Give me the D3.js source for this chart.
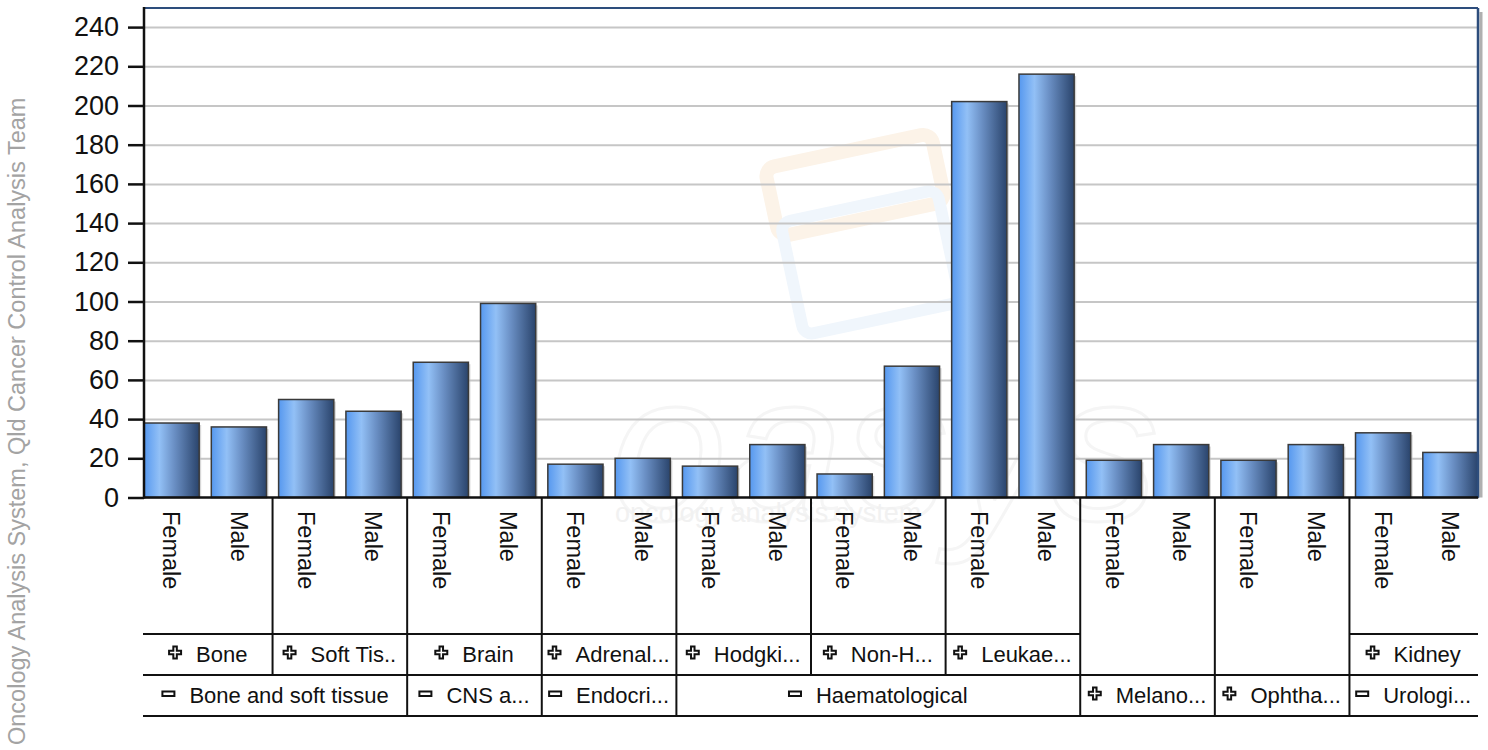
<!DOCTYPE html>
<html>
<head>
<meta charset="utf-8">
<script src="https://cdn.jsdelivr.net/npm/d3@7"></script>
<style>
	body { margin: 0; background: #fff; }
	svg { display: block; font-family: "Liberation Sans", Arial, sans-serif; }
</style>
</head>
<body>
<svg id="chart" width="1488" height="750"></svg>
<script>
// values
var categories = ["Bone and soft tissue", "CNS a...", "Endocri...", "Haematological", "Melano...", "Ophtha...", "Urologi..."];
var categoryOpen = [true, true, true, true, false, false, true];
var subcategories = ["Bone", "Soft Tis..", "Brain", "Adrenal...", "Hodgki...", "Non-H...", "Leukae...", "", "", "Kidney"];
var subcategoryParent = [0, 0, 1, 2, 3, 3, 3, 4, 5, 6];
var sexes = ["Female", "Male"];
var cases = [38, 36, 50, 44, 69, 99, 17, 20, 16, 27, 12, 67, 202, 216, 19, 27, 19, 27, 33, 23];
var yTicks = [0, 20, 40, 60, 80, 100, 120, 140, 160, 180, 200, 220, 240];
var sideNote = "Oncology Analysis System, Qld Cancer Control Analysis Team";

function renderChart() {
	var svg = d3.select('#chart');
	var plotL = 144, plotR = 1478, plotT = 8, plotB = 497.5;
	var row1B = 634, row2B = 675, row3B = 716;

	var x = d3.scaleBand()
		.domain(d3.range(cases.length))
		.range([plotL, plotR])
		.paddingInner(0.18)
		.paddingOuter(0);
	var y = d3.scaleLinear().domain([0, 250]).range([plotB, plotT - 0.5]);
	var bw = x.bandwidth();
	var gapHalf = x.step() * x.paddingInner() / 2;

	var defs = svg.append('defs');
	var grad = defs.append('linearGradient').attr('id', 'barGrad')
		.attr('x1', '0%').attr('x2', '100%').attr('y1', '0%').attr('y2', '0%');
	grad.append('stop').attr('offset', '0%').attr('stop-color', '#5698ef');
	grad.append('stop').attr('offset', '28%').attr('stop-color', '#92c0f6');
	grad.append('stop').attr('offset', '55%').attr('stop-color', '#6a8fc4');
	grad.append('stop').attr('offset', '100%').attr('stop-color', '#2a446c');

	// faint watermark
	var wm = svg.append('g').attr('id', 'watermark');
	wm.append('rect').attr('x', 770).attr('y', 150).attr('width', 170).attr('height', 70)
		.attr('rx', 10).attr('transform', 'rotate(-12 855 185)')
		.style('fill', 'none').style('stroke', '#fcf3e8').style('stroke-width', '14px');
	wm.append('rect').attr('x', 790).attr('y', 205).attr('width', 160).attr('height', 115)
		.attr('rx', 10).attr('transform', 'rotate(-12 870 260)')
		.style('fill', 'none').style('stroke', '#f0f6fc').style('stroke-width', '12px');
	wm.append('text').attr('x', 610).attr('y', 520)
		.style('font-size', '210px').style('font-style', 'italic')
		.style('fill', 'none').style('stroke', '#f5f5f5').style('stroke-width', '3px')
		.text('oasys');
	wm.append('text').attr('x', 615).attr('y', 522)
		.style('font-size', '27px').style('fill', '#f1f1f1')
		.text('oncology analysis system');

	// gridlines
	svg.append('g')
		.attr('transform', 'translate(' + plotL + ',0)')
		.call(d3.axisLeft(y).tickValues(yTicks.filter(function(d) { return d > 0; }))
			.tickSize(-(plotR - plotL)).tickFormat(''))
		.call(function(g) {
			g.select('.domain').remove();
			g.selectAll('line').style('stroke', '#c6c6c6').style('stroke-width', '2px');
		});

	// bars
	var bars = svg.append('g').attr('id', 'bars');
	bars.selectAll('rect.shadow')
		.data(cases)
		.enter().append('rect')
		.attr('class', 'shadow')
		.attr('x', function(d, i) { return x(i) + 2; })
		.attr('y', function(d) { return y(d) + 2; })
		.attr('width', bw)
		.attr('height', function(d) { return plotB - y(d) - 2; })
		.style('fill', '#bdbdbd').style('opacity', 0.6);
	bars.selectAll('rect.bar')
		.data(cases)
		.enter().append('rect')
		.attr('class', 'bar')
		.attr('x', function(d, i) { return x(i); })
		.attr('y', function(d) { return y(d); })
		.attr('width', bw)
		.attr('height', function(d) { return plotB - y(d); })
		.style('fill', 'url(#barGrad)')
		.style('stroke', '#3a3a3a')
		.style('stroke-width', '1.5px');

	// plot frame
	svg.append('line').attr('x1', plotR + 3).attr('x2', plotR + 3).attr('y1', plotT + 4).attr('y2', plotB)
		.style('stroke', '#b0b0b0').style('stroke-width', '3px');
	svg.append('line').attr('x1', plotL).attr('x2', plotR).attr('y1', plotT).attr('y2', plotT)
		.style('stroke', '#2d4d7c').style('stroke-width', '2px');
	svg.append('line').attr('x1', plotR).attr('x2', plotR).attr('y1', plotT).attr('y2', plotB)
		.style('stroke', '#2d4d7c').style('stroke-width', '2.5px');

	// y axis
	svg.append('g')
		.attr('transform', 'translate(' + plotL + ',0)')
		.call(d3.axisLeft(y).tickValues(yTicks).tickSize(16).tickPadding(9).tickFormat(d3.format('d')))
		.call(function(g) {
			g.select('.domain').remove();
			g.selectAll('line').style('stroke', '#111').style('stroke-width', '2.5px');
			g.selectAll('text').style('font-size', '27px').style('fill', '#111')
				.style('font-family', '"Liberation Sans", Arial, sans-serif');
		});
	svg.append('line').attr('x1', plotL).attr('x2', plotL).attr('y1', plotT - 1).attr('y2', plotB + 1)
		.style('stroke', '#111').style('stroke-width', '2.5px');
	svg.append('line').attr('x1', plotL).attr('x2', plotR).attr('y1', plotB).attr('y2', plotB)
		.style('stroke', '#111').style('stroke-width', '2.5px');

	// side note
	svg.append('text')
		.attr('transform', 'translate(25,745) rotate(-90)')
		.style('font-size', '23.5px').style('fill', '#a3a3a3')
		.text(sideNote);

	// sex labels
	svg.append('g').selectAll('text')
		.data(cases)
		.enter().append('text')
		.attr('transform', function(d, i) {
			return 'translate(' + (x(i) + bw / 2) + ',511) rotate(90)';
		})
		.attr('dy', '0.35em')
		.style('font-size', '23.5px').style('fill', '#111')
		.text(function(d, i) { return sexes[i % 2]; });

	// table of groups
	var leafStart = function(k) { return k === 0 ? plotL : x(2 * k) - gapHalf; };
	var leafEnd = function(k) { return k === subcategories.length - 1 ? plotR : x(2 * k + 1) + bw + gapHalf; };
	var table = svg.append('g').attr('id', 'table');
	var lineStyle = function(sel) { sel.style('stroke', '#111').style('stroke-width', '2px'); };

	subcategories.forEach(function(s, k) {
		if (k > 0) {
			var bx = leafStart(k);
			var isCatEdge = subcategoryParent[k] !== subcategoryParent[k - 1];
			table.append('line').attr('x1', bx).attr('x2', bx)
				.attr('y1', plotB).attr('y2', isCatEdge ? row3B : row2B)
				.call(lineStyle);
		}
		if (s !== '') {
			table.append('line').attr('x1', leafStart(k) - (k === 0 ? 1 : 0)).attr('x2', leafEnd(k))
				.attr('y1', row1B).attr('y2', row1B).call(lineStyle);
			drawLabel(leafStart(k), leafEnd(k), (row1B + row2B) / 2, s, 'plus');
		}
	});
	table.append('line').attr('x1', plotL - 1).attr('x2', plotR).attr('y1', row2B).attr('y2', row2B).call(lineStyle);
	table.append('line').attr('x1', plotL - 1).attr('x2', plotR).attr('y1', row3B).attr('y2', row3B).call(lineStyle);

	categories.forEach(function(c, ci) {
		var leaves = d3.range(subcategories.length).filter(function(k) { return subcategoryParent[k] === ci; });
		drawLabel(leafStart(leaves[0]), leafEnd(leaves[leaves.length - 1]), (row2B + row3B) / 2, c,
			categoryOpen[ci] ? 'minus' : 'plus');
	});

	function drawLabel(x0, x1, cy, label, icon) {
		var g = table.append('g');
		var t = g.append('text')
			.attr('y', cy).attr('dy', '0.35em')
			.style('font-size', '22px').style('fill', '#111')
			.text(label);
		var tw = t.node().getComputedTextLength();
		var iconW = 12, gap = 15;
		var total = iconW + gap + tw;
		var start = Math.max(x0 + 3, (x0 + x1) / 2 - total / 2);
		t.attr('x', start + iconW + gap);
		var ix = start, iy = cy - 2;
		if (icon === 'plus') {
			var a = 3.5, b = 6;
			g.append('path')
				.attr('d', 'M' + (ix + b - a / 2) + ',' + (iy - b) + 'h' + a + 'v' + (b - a / 2) + 'h' + (b - a / 2)
					+ 'v' + a + 'h' + (-(b - a / 2)) + 'v' + (b - a / 2) + 'h' + (-a) + 'v' + (-(b - a / 2))
					+ 'h' + (-(b - a / 2)) + 'v' + (-a) + 'h' + (b - a / 2) + 'z')
				.style('fill', '#fff').style('stroke', '#111').style('stroke-width', '2px');
		} else {
			g.append('rect').attr('x', ix).attr('y', iy - 2).attr('width', iconW).attr('height', 4.5)
				.style('fill', '#fff').style('stroke', '#111').style('stroke-width', '2px');
		}
	}
}

renderChart();
</script>
</body>
</html>
